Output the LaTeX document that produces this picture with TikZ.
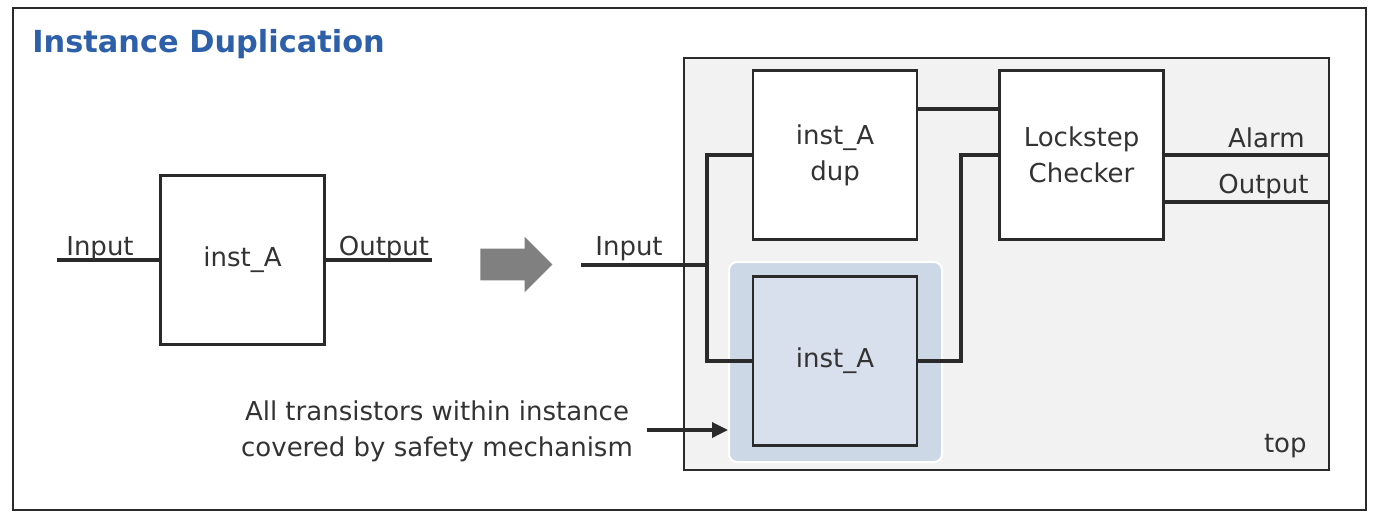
\documentclass[tikz,border=0pt]{standalone}
\usepackage{fontspec}
\setmainfont{DejaVu Sans}
\usetikzlibrary{arrows.meta,shapes.arrows}

\definecolor{wirecol}{RGB}{42,42,42}
\definecolor{textcol}{RGB}{51,51,51}
\definecolor{titleblue}{RGB}{46,96,170}
\definecolor{topfill}{RGB}{242,242,242}
\definecolor{hlfill}{RGB}{204,216,229}
\definecolor{instfill}{RGB}{215,224,236}

\begin{document}
\begin{tikzpicture}[x=0.5pt, y=-0.5pt,
	font=\fontsize{13pt}{18pt}\selectfont, text=textcol,
	wire/.style={draw=wirecol, line width=1.7pt},
	block/.style={draw=wirecol, line width=1.4pt, fill=white, minimum width=82pt, minimum height=84.5pt, align=center, inner sep=0pt},
	lbl/.style={inner sep=0pt, anchor=base},
	pointer/.style={wire, -{Triangle[length=8pt, width=7.5pt]}}]
	\useasboundingbox (0, 0) rectangle (1375, 520);

	\draw[wirecol, line width=1.2pt] (13, 8) rectangle (1366, 510);
	\node[inner sep=0pt, anchor=base west, text=titleblue, font=\fontsize{15.2pt}{18pt}\selectfont\bfseries] (title) at (32, 52) {Instance Duplication};

	\node[block] (instL) at (242.5, 260) {\raisebox{-2pt}{inst\_A}};
	\coordinate (inL) at (57, 260);
	\coordinate (outL) at (432, 260);
	\draw[wire] (inL) -- (instL.west);
	\draw[wire] (instL.east) -- (outL);
	\node[lbl] (inLlbl) at (100, 255) {Input};
	\node[lbl] (outLlbl) at (384, 255) {Output};

	\node[single arrow, fill=gray, draw=none, inner sep=7.75pt, minimum width=27.5pt, minimum height=36pt, single arrow head extend=6pt, anchor=tip] (morph) at (553, 264.5) {};

	\node[draw=wirecol, line width=1.4pt, fill=topfill, minimum width=322.5pt, minimum height=206pt] (top) at (1006.5, 264) {};
	\node[lbl, anchor=base east] (toplbl) at (1307, 452) {top};

	\node[draw=white, line width=1pt, fill=hlfill, rounded corners=4pt, minimum width=106.5pt, minimum height=100pt] (hl) at (835.5, 362) {};
	\node[block, fill=instfill] (instA) at (835, 361) {inst\_A};
	\node[block] (dup) at (835, 155) {inst\_A\\dup};
	\node[block] (chk) at (1081.5, 155) {Lockstep\\Checker};

	\coordinate (inR) at (581, 265);
	\coordinate (split) at (707, 265);
	\coordinate (merge) at (961, 361);
	\draw[wire] (inR) -- (split) |- (dup.west);
	\draw[wire] (split) |- (instA.west);
	\draw[wire] (dup.east |- 0, 109) -- (chk.west |- 0, 109);
	\draw[wire] (instA.east) -- (merge) |- (chk.west);
	\draw[wire] (chk.east) -- (top.east |- chk.east);
	\draw[wire] (chk.east |- 0, 202) -- (top.east |- 0, 202);
	\node[lbl] (inRlbl) at (629, 255) {Input};
	\node[lbl, anchor=base east] (alarm) at (1305, 147) {Alarm};
	\node[lbl, anchor=base east] (outR) at (1309, 193) {Output};

	\node[align=center, inner sep=0pt] (note) at (437, 431) {All transistors within instance\\covered by safety mechanism};
	\coordinate (ptr) at (647, 430);
	\draw[pointer] (ptr) -- (hl.west |- ptr);
\end{tikzpicture}
\end{document}
